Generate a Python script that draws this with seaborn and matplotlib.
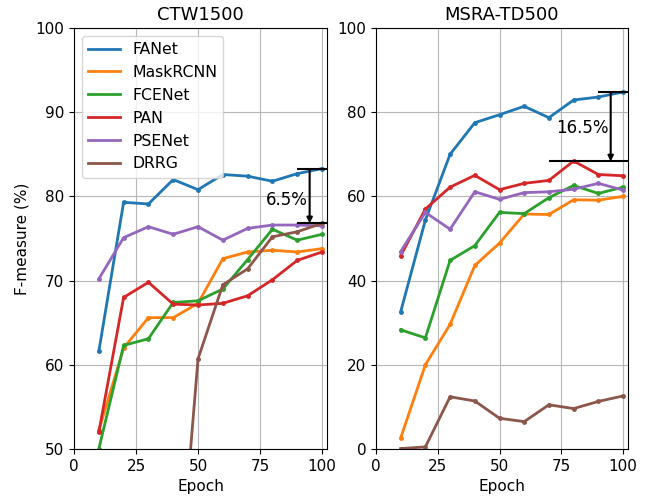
import numpy as np
import pandas as pd
import matplotlib
matplotlib.use("Agg")
import matplotlib.pyplot as plt
from matplotlib.lines import Line2D
import seaborn as sns

epochs = [10, 20, 30, 40, 50, 60, 70, 80, 90, 100]
methods = ["FANet", "MaskRCNN", "FCENet", "PAN", "PSENet", "DRRG"]

# CTW1500
ctw_fanet = [61.6, 79.3, 79.1, 82.0, 80.8, 82.6, 82.4, 81.8, 82.7, 83.3]
ctw_maskrcnn = [52.2, 62.0, 65.6, 65.6, 67.3, 72.6, 73.4, 73.6, 73.4, 73.8]
ctw_fcenet = [50.0, 62.3, 63.1, 67.4, 67.6, 69.0, 72.5, 76.1, 74.8, 75.5]
ctw_pan = [52.0, 68.0, 69.8, 67.2, 67.1, 67.3, 68.2, 70.1, 72.4, 73.4]
ctw_psenet = [70.2, 75.1, 76.4, 75.5, 76.4, 74.8, 76.2, 76.6, 76.6, 76.5]
ctw_drrg_epochs = [40, 50, 60, 70, 80, 90, 100]
ctw_drrg = [25.0, 60.7, 69.5, 71.4, 75.2, 75.8, 76.8]

# MSRA-TD500
msra_fanet = [32.6, 54.4, 70.0, 77.5, 79.4, 81.4, 78.7, 82.9, 83.6, 84.8]
msra_maskrcnn = [2.6, 20.0, 29.6, 43.6, 48.9, 55.8, 55.7, 59.2, 59.1, 60.0]
msra_fcenet = [28.3, 26.4, 44.8, 48.3, 56.2, 55.9, 59.7, 62.6, 60.7, 62.2]
msra_pan = [45.9, 57.0, 62.2, 65.0, 61.6, 63.1, 63.8, 68.4, 65.2, 64.9]
msra_psenet = [46.9, 56.2, 52.2, 61.1, 59.3, 60.9, 61.1, 61.7, 63.1, 61.5]
msra_drrg = [0.1, 0.5, 12.4, 11.4, 7.3, 6.5, 10.5, 9.6, 11.3, 12.6]

ctw_gap = (76.8, 83.25, "6.5%")
msra_gap = (68.3, 84.8, "16.5%")


def build(series):
    rows = []
    for name, (ep, vals) in series.items():
        for e, v in zip(ep, vals):
            rows.append({"Epoch": e, "F": v, "Method": name})
    return pd.DataFrame(rows)


ctw_df = build({
    "FANet": (epochs, ctw_fanet),
    "MaskRCNN": (epochs, ctw_maskrcnn),
    "FCENet": (epochs, ctw_fcenet),
    "PAN": (epochs, ctw_pan),
    "PSENet": (epochs, ctw_psenet),
    "DRRG": (ctw_drrg_epochs, ctw_drrg),
})
msra_df = build({
    "FANet": (epochs, msra_fanet),
    "MaskRCNN": (epochs, msra_maskrcnn),
    "FCENet": (epochs, msra_fcenet),
    "PAN": (epochs, msra_pan),
    "PSENet": (epochs, msra_psenet),
    "DRRG": (epochs, msra_drrg),
})

colors = sns.color_palette("tab10", 6)
palette = dict(zip(methods, colors))

fig = plt.figure(figsize=(6.47, 4.99), dpi=100)
ax1 = fig.add_axes([0.1144, 0.1002, 0.391, 0.8437])
ax2 = fig.add_axes([0.5811, 0.1002, 0.3895, 0.8437])

for ax, df in [(ax1, ctw_df), (ax2, msra_df)]:
    sns.lineplot(data=df, x="Epoch", y="F", hue="Method", hue_order=methods,
                 palette=palette, marker="o", markersize=3.5,
                 markeredgewidth=0, linewidth=2, ax=ax, legend=False,
                 sort=False, estimator=None)
    ax.set_xlim(0, 102)
    ax.set_xticks([0, 25, 50, 75, 100])
    ax.grid(True, color="#b0b0b0", linewidth=0.8, alpha=0.9)
    ax.set_axisbelow(True)
    ax.set_xlabel("Epoch", fontsize=11)

ax1.set_ylim(50, 100)
ax1.set_yticks([50, 60, 70, 80, 90, 100])
ax1.set_ylabel("F-measure (%)", fontsize=11)
ax1.set_title("CTW1500", fontsize=13)
ax2.set_ylim(0, 100)
ax2.set_yticks([0, 20, 40, 60, 80, 100])
ax2.set_ylabel("")
ax2.set_title("MSRA-TD500", fontsize=13)

for ax in (ax1, ax2):
    ax.tick_params(labelsize=11)


def gap(ax, lo, hi, label, lo_start, hi_start, dy):
    ax.hlines(hi, hi_start, 103, color="black", linewidth=1.5, clip_on=True)
    ax.hlines(lo, lo_start, 103, color="black", linewidth=1.5, clip_on=True)
    ax.annotate("", xy=(95, lo), xytext=(95, hi),
                arrowprops=dict(arrowstyle="-|>", color="black", lw=1.5,
                                mutation_scale=8, shrinkA=0, shrinkB=0))
    ax.text(94.2, (lo + hi) / 2 - dy, label, ha="right", va="center", fontsize=12)


gap(ax1, ctw_gap[0], ctw_gap[1], ctw_gap[2], 90, 90, 0.4)
gap(ax2, msra_gap[0], msra_gap[1], msra_gap[2], 70, 90, 0.4)

handles = [Line2D([0], [0], color=palette[m], lw=2) for m in methods]
ax1.legend(handles, methods, loc="upper left", fontsize=11.3, framealpha=0.8)

fig.savefig("out.png", dpi=100)
